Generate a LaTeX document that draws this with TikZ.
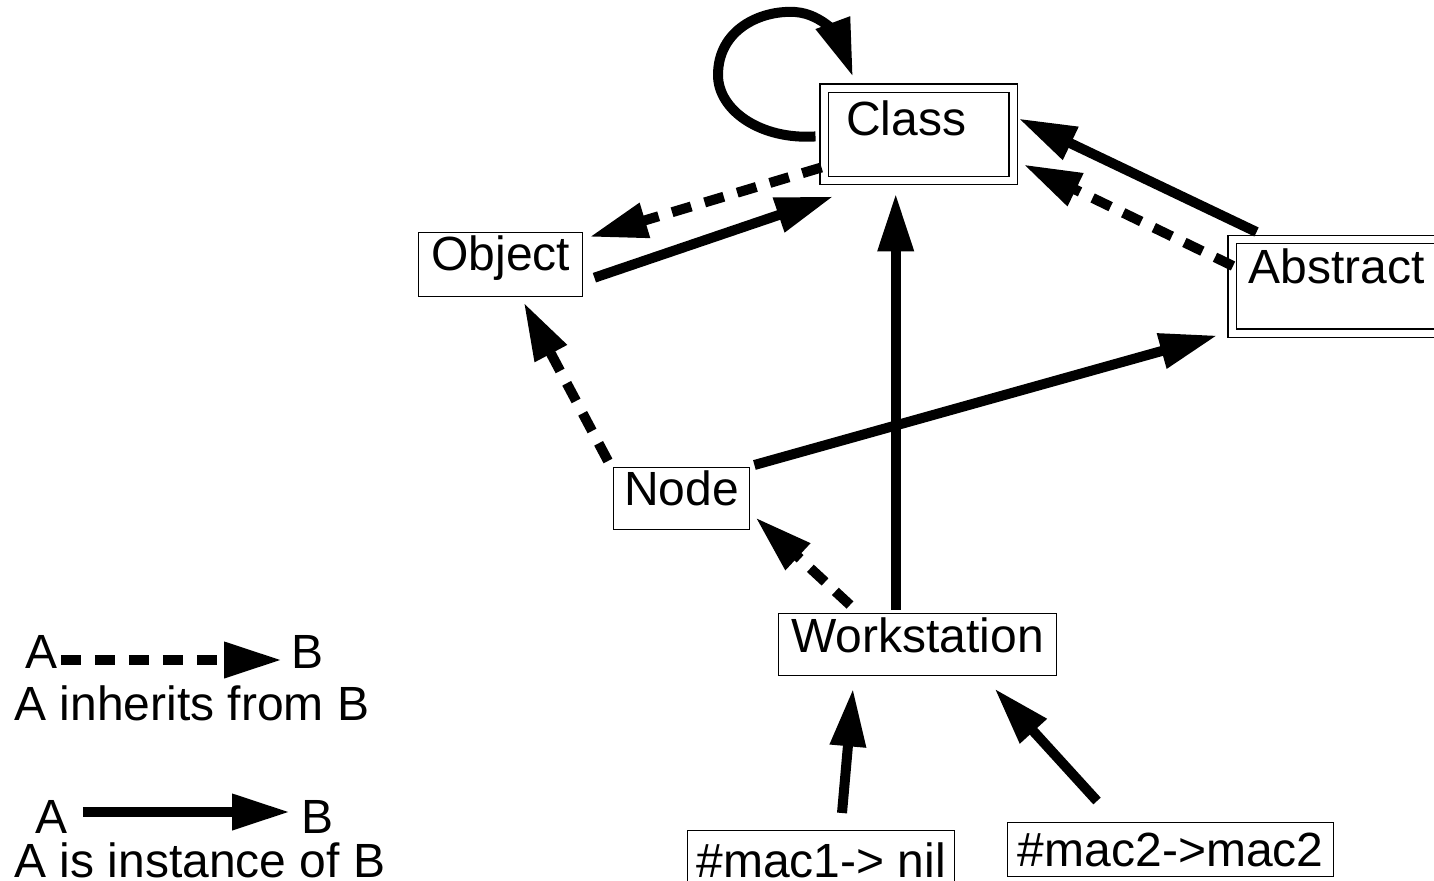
\documentclass[tikz,border=0pt]{standalone}
\usepackage{fontspec}
\setmainfont{Liberation Sans}
\usetikzlibrary{arrows.meta,calc}
\begin{document}
\begin{tikzpicture}[x=0.5pt,y=-0.5pt,
  box/.style={draw, line width=0.7pt, inner sep=0pt, font=\fontsize{24}{28}\selectfont, anchor=north west},
  dbox/.style={box, double, double distance=3.4pt},
  lbl/.style={inner sep=0pt, font=\fontsize{24}{28}\selectfont},
  inst/.style={line width=5pt, -{Triangle[length=29pt,width=17pt]}},
  inh/.style={inst, dash pattern=on 10pt off 7pt}]
\clip (0,0) rectangle (1434,881);
\fill[white] (0,0) rectangle (1434,881);

% boxes
\node[dbox, text width=72.5pt, inner xsep=11pt, align=left, text height=23.75pt, text depth=22.5pt] (class) at (823.5,87.5) {Class};
\node[dbox, minimum width=104.25pt, text height=22pt, text depth=24.75pt] (abstract) at (1231.5,239) {Abstract};
\node[box, minimum width=82pt, text height=19pt, text depth=13pt] (object) at (418,232) {Object};
\node[box, minimum width=68pt, text height=19pt, text depth=12pt] (node) at (613,467) {Node};
\node[box, minimum width=139pt, text height=19.5pt, text depth=11.5pt] (ws) at (778,613) {Workstation};
\node[box, minimum width=133.5pt, text height=23.5pt, text depth=10pt] (mac1) at (687,830) {\#mac1-> nil};
\node[box, minimum width=163pt, text height=22pt, text depth=5pt] (mac2) at (1007,822) {\#mac2->mac2};

% connectors
\draw[inst] ($(class.west)+(-8,2)$) .. controls (760,140) and (718,110) .. (718,75)
  .. controls (718,30) and (760,10) .. (795,12)
  .. controls (825,14) and (840,42) .. ($(class.north west)+(29.5,-10.5)$);
\draw[inh] ($(class.west)+(-2,33)$) -- ($(object.north east)+(6,5)$);
\draw[inst] ($(object.east)+(11,13)$) -- ($(class.south west)+(10,15)$);
\draw[inst] ($(abstract.north west)+(25,-7)$) -- ($(class.east)+(4.5,-16)$);
\draw[inh] ($(abstract.north west)+(1.5,27)$) -- ($(class.east)+(9.5,30)$);
\draw[inh] ($(node.north west)+(-5,-6)$) -- ($(object.south)+(23,5)$);
\draw[inst] ($(node.north east)+(4,-2)$) -- ($(abstract.south west)+(-14,1.5)$);
\draw[inst] ($(ws.north)+(-22,-3)$) -- ($(class.south)+(-23,12)$);
\draw[inh] ($(ws.north west)+(72,-8)$) -- ($(node.south east)+(5,-13)$);
\draw[inst] ($(mac1.north west)+(155,-17)$) -- ($(ws.south west)+(75,12)$);
\draw[inst] ($(mac2.north west)+(90,-21)$) -- ($(ws.south east)+(-63,12)$);

% legend
\node[lbl, anchor=base west] (a1) at (25,668) {A};
\node[lbl, anchor=base west] (b1) at (291,668) {B};
\node[lbl, anchor=base west] (t1) at (14,720) {A inherits from B};
\draw[inh] ($(a1.base east)+(3,-8)$) -- ($(b1.base west)+(-9,-8)$);
\node[lbl, anchor=base west] (a2) at (35,833) {A};
\node[lbl, anchor=base west] (b2) at (301,833) {B};
\node[lbl, anchor=base west] (t2) at (14,877) {A is instance of B};
\draw[inst] ($(a2.base east)+(15,-21)$) -- ($(b2.base west)+(-11,-21)$);
\end{tikzpicture}
\end{document}
